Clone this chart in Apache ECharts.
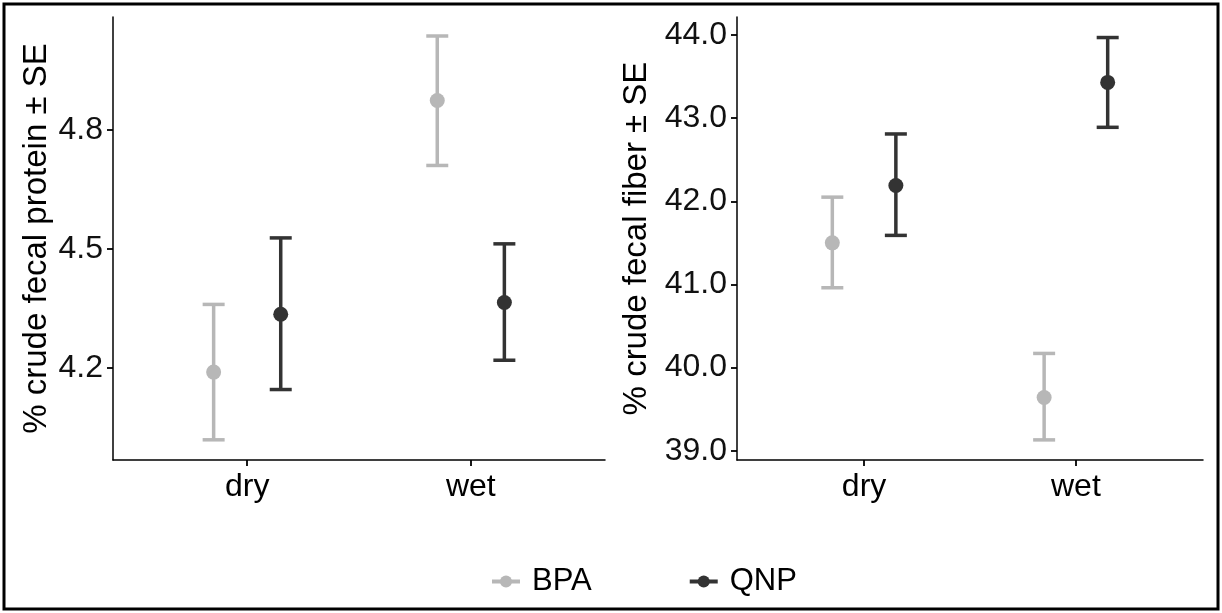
<!DOCTYPE html>
<html>
<head>
<meta charset="utf-8">
<script src="https://cdn.jsdelivr.net/npm/echarts@6/dist/echarts.min.js"></script>
<style>
html,body{margin:0;padding:0;background:#fff;}
#chart{width:1222px;height:613px;}
</style>
</head>
<body>
<div id="chart"></div>
<script>
// ---- data ----
const categories = ['dry', 'wet'];
const groups = ['BPA', 'QNP'];

const proteinBPA      = [4.189, 4.875];
const proteinBPALow   = [4.018, 4.711];
const proteinBPAHigh  = [4.360, 5.038];
const proteinQNP      = [4.335, 4.365];
const proteinQNPLow   = [4.145, 4.219];
const proteinQNPHigh  = [4.528, 4.513];

const fiberBPA        = [41.50, 39.64];
const fiberBPALow     = [40.96, 39.13];
const fiberBPAHigh    = [42.05, 40.17];
const fiberQNP        = [42.19, 43.43];
const fiberQNPLow     = [41.59, 42.89];
const fiberQNPHigh    = [42.81, 43.97];

const proteinTicks = [4.2, 4.5, 4.8];
const fiberTicks = [39, 40, 41, 42, 43, 44];

// ---- styling ----
const FONT = "'Liberation Sans', Arial, sans-serif";
const colors = { BPA: '#b7b7b7', QNP: '#333333' };
const dodge = { BPA: -0.15, QNP: 0.15 };

function pts(vals, g) {
  return vals.map((v, i) => [i + 1 + dodge[g], v]);
}
function errs(lo, hi, g) {
  return lo.map((v, i) => [i + 1 + dodge[g], v, hi[i]]);
}
function errRender(color) {
  return function (params, api) {
    const x = api.value(0);
    const pLo = api.coord([x, api.value(1)]);
    const pHi = api.coord([x, api.value(2)]);
    const hw = 11;
    const style = { stroke: color, lineWidth: 3.5, fill: null };
    return {
      type: 'group',
      children: [
        { type: 'line', shape: { x1: pLo[0], y1: pLo[1], x2: pHi[0], y2: pHi[1] }, style: style },
        { type: 'line', shape: { x1: pLo[0] - hw, y1: pLo[1], x2: pLo[0] + hw, y2: pLo[1] }, style: style },
        { type: 'line', shape: { x1: pHi[0] - hw, y1: pHi[1], x2: pHi[0] + hw, y2: pHi[1] }, style: style }
      ]
    };
  };
}

function xAxisFor(gridIndex) {
  return {
    type: 'value', gridIndex: gridIndex, min: 0.4, max: 2.6,
    axisLine: { show: true, onZero: false, lineStyle: { color: '#000', width: 1.5 } },
    axisTick: { show: true, customValues: [1, 2], length: 6, lineStyle: { color: '#000', width: 1.8 } },
    axisLabel: {
      customValues: [1, 2], formatter: v => categories[Math.round(v) - 1],
      fontFamily: FONT, fontSize: 32, color: '#000', margin: 11
    },
    splitLine: { show: false }
  };
}
function yAxisFor(gridIndex, min, max, ticks, name, gap, digits) {
  return {
    type: 'value', gridIndex: gridIndex, min: min, max: max,
    name: name, nameLocation: 'middle', nameGap: gap,
    nameTextStyle: { fontFamily: FONT, fontSize: 33, color: '#000' },
    axisLine: { show: true, onZero: false, lineStyle: { color: '#000', width: 1.5 } },
    axisTick: { show: true, customValues: ticks, length: 6, lineStyle: { color: '#000', width: 1.8 } },
    axisLabel: {
      customValues: ticks, formatter: v => v.toFixed(digits),
      fontFamily: FONT, fontSize: 32, color: '#111', margin: 10
    },
    splitLine: { show: false }
  };
}

function pointSeries(name, data, xi, yi) {
  return {
    name: name, type: 'line', xAxisIndex: xi, yAxisIndex: yi, data: data,
    symbol: 'circle', symbolSize: 15, showSymbol: true,
    lineStyle: { opacity: 0, width: 0 },
    itemStyle: { color: colors[name] },
    z: 5, silent: true
  };
}
function errSeries(name, data, xi, yi) {
  return {
    name: name + ' SE', type: 'custom', xAxisIndex: xi, yAxisIndex: yi,
    data: data, renderItem: errRender(colors[name]),
    encode: { x: 0, y: [1, 2] }, z: 2, silent: true
  };
}

const chart = echarts.init(document.getElementById('chart'), null, { renderer: 'canvas' });
chart.setOption({
  animation: false,
  backgroundColor: '#fff',
  grid: [
    { left: 113, top: 17, width: 492, height: 443 },
    { left: 737, top: 17, width: 466, height: 443 }
  ],
  xAxis: [xAxisFor(0), xAxisFor(1)],
  yAxis: [
    yAxisFor(0, 3.967, 5.086, proteinTicks, '% crude fecal protein \u00b1 SE', 60, 1),
    yAxisFor(1, 38.888, 44.217, fiberTicks, '% crude fecal fiber \u00b1 SE', 84, 1)
  ],
  legend: {
    data: groups, left: 485, top: 561, itemWidth: 28, itemHeight: 15, itemGap: 96,
    textStyle: { fontFamily: FONT, fontSize: 31, color: '#000', padding: [0, 0, 0, 7] },
    lineStyle: { width: 4, opacity: 1 },
    selectedMode: false
  },
  graphic: [{
    type: 'rect', shape: { x: 4, y: 4, width: 1214, height: 605 },
    style: { fill: null, stroke: '#000', lineWidth: 3 }, silent: true, z: 100
  }],
  series: [
    errSeries('BPA', errs(proteinBPALow, proteinBPAHigh, 'BPA'), 0, 0),
    errSeries('QNP', errs(proteinQNPLow, proteinQNPHigh, 'QNP'), 0, 0),
    pointSeries('BPA', pts(proteinBPA, 'BPA'), 0, 0),
    pointSeries('QNP', pts(proteinQNP, 'QNP'), 0, 0),
    errSeries('BPA', errs(fiberBPALow, fiberBPAHigh, 'BPA'), 1, 1),
    errSeries('QNP', errs(fiberQNPLow, fiberQNPHigh, 'QNP'), 1, 1),
    pointSeries('BPA', pts(fiberBPA, 'BPA'), 1, 1),
    pointSeries('QNP', pts(fiberQNP, 'QNP'), 1, 1)
  ]
});
</script>
</body>
</html>
